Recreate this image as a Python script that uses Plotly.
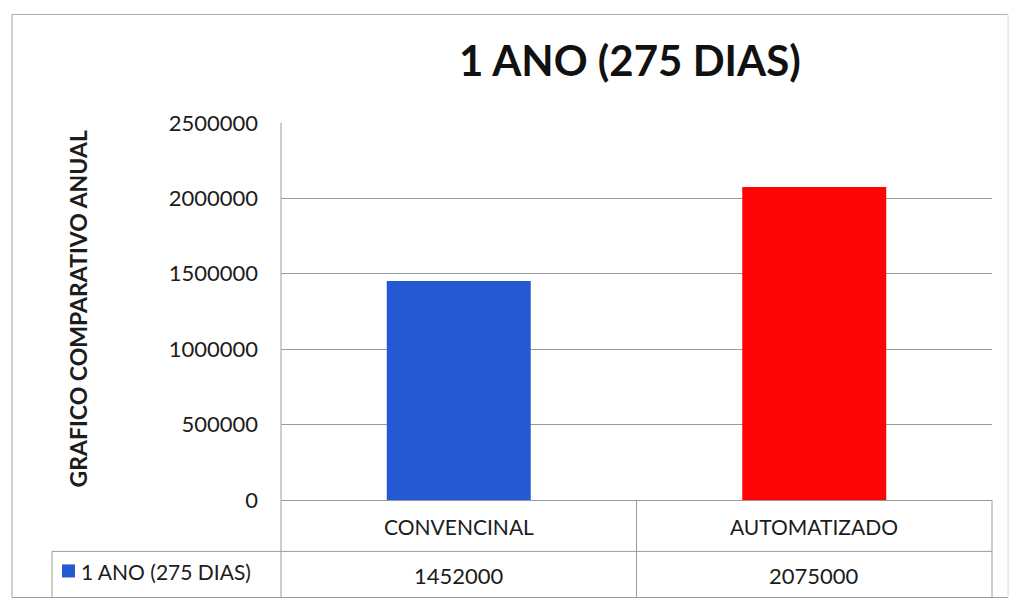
import plotly.graph_objects as go

# Chart data
categories = ["CONVENCINAL", "AUTOMATIZADO"]
values = [1452000, 2075000]
bar_colors = ["#2559d2", "#fd0505"]
series_name = "1 ANO (275 DIAS)"
chart_title = "1 ANO (275 DIAS)"
axis_title = "GRAFICO COMPARATIVO ANUAL"
y_ticks = [0, 500000, 1000000, 1500000, 2000000, 2500000]

W, H = 1017, 611
FONT = "Lato"
TEXT = "#1c1c1c"
LINE = "#9a9a9a"

# Layout geometry in pixels
PLOT_L, PLOT_R = 281, 992
PLOT_T, PLOT_B = 123, 499
ROW_MID, ROW_BOT = 550, 596
LEG_L = 52
# vertical spread of the layout around the page centre
SPREAD = 1.05


def px(x):
    return x / W


def py(y):
    y = H / 2 + (y - H / 2) * SPREAD
    y = min(max(y, 0.5), H - 0.5)
    return 1 - y / H


fig = go.Figure(
    go.Bar(
        x=categories,
        y=values,
        marker=dict(color=bar_colors, line=dict(width=0)),
        width=0.405,
        name=series_name,
        showlegend=False,
    )
)

shapes = []


def line(x0, y0, x1, y1, color=LINE, width=1):
    shapes.append(dict(type="line", xref="paper", yref="paper",
                       x0=px(x0), y0=py(y0), x1=px(x1), y1=py(y1),
                       line=dict(color=color, width=width)))


# Outer chart frame
line(12, 12, 1008, 12, "#b0b0b0")
line(12, 12, 12, 604, "#a0a0a0")
line(12, 604, 1008, 604, "#a0a0a0")
line(1008, 12, 1008, 604, "#d8d8d8")

# Data table grid
line(PLOT_L, PLOT_T, PLOT_L, ROW_BOT)
line((PLOT_L + PLOT_R) / 2, PLOT_B, (PLOT_L + PLOT_R) / 2, ROW_BOT)
line(PLOT_R, PLOT_B, PLOT_R, ROW_BOT)
line(LEG_L, ROW_MID, PLOT_R, ROW_MID)
line(LEG_L, ROW_BOT, PLOT_R, ROW_BOT)
line(LEG_L, ROW_MID, LEG_L, ROW_BOT)

# Legend key in the table
shapes.append(dict(type="rect", xref="paper", yref="paper",
                   x0=px(62), x1=px(75), y0=py(563), y1=py(576),
                   fillcolor=bar_colors[0], line=dict(width=0)))


def label(text, x, y, size, xref="paper", bold=False, **kw):
    return dict(text=f"<b>{text}</b>" if bold else text,
                xref=xref, yref="paper",
                x=x, y=py(y), yanchor="middle", showarrow=False,
                font=dict(family=FONT, size=size, color=kw.pop("color", TEXT)),
                **kw)


annotations = [
    label(chart_title, px(630), 60, 42, bold=True, color="#111111"),
    label(axis_title, px(62), 309, 23, bold=True, textangle=-90),
    label(series_name, px(79), 570, 21, xanchor="left"),
]

for cat, val in zip(categories, values):
    annotations.append(label(cat, cat, 525, 21, xref="x"))
    annotations.append(label(str(val), cat, 574, 22, xref="x"))

fig.update_layout(
    width=W, height=H,
    margin=dict(l=0, r=0, t=0, b=0),
    paper_bgcolor="white",
    plot_bgcolor="white",
    bargap=0.595,
    shapes=shapes,
    annotations=annotations,
    xaxis=dict(domain=[px(PLOT_L), px(PLOT_R)], range=[-0.5, 1.5],
               showticklabels=False, showgrid=False, zeroline=False,
               showline=False, ticks=""),
    yaxis=dict(domain=[py(PLOT_B), py(PLOT_T)], range=[0, 2500000],
               tickvals=y_ticks, ticktext=[str(v) for v in y_ticks],
               showgrid=True, gridcolor=LINE, gridwidth=1,
               zeroline=True, zerolinecolor=LINE, zerolinewidth=1,
               showline=False, ticks="", ticklabelstandoff=22,
               tickfont=dict(family=FONT, size=22, color=TEXT)),
)

fig.write_html("out.html")
